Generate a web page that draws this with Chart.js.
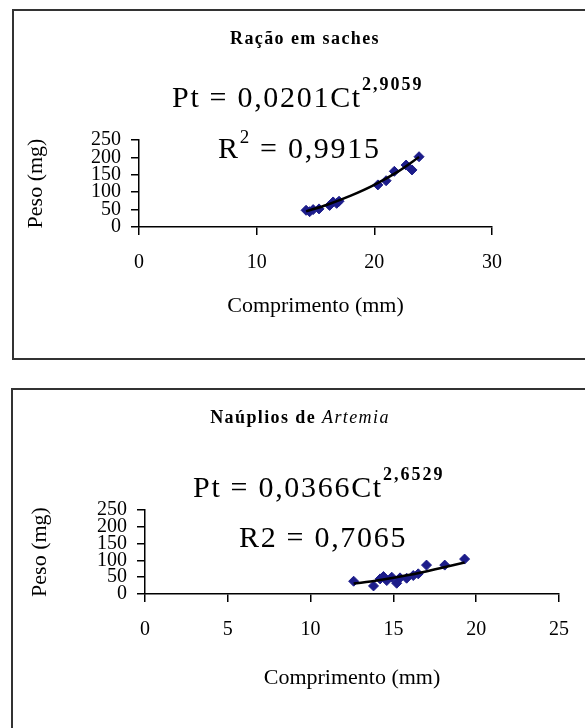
<!DOCTYPE html>
<html>
<head>
<meta charset="utf-8">
<script src="https://cdn.jsdelivr.net/npm/chart.js@4"></script>
<style>
  html, body { margin: 0; padding: 0; background: #fff; }
  body { width: 585px; height: 728px; position: relative; overflow: hidden; font-family: "Liberation Serif", "Times New Roman", serif; color: #000; }
  .box { position: absolute; border: 2px solid #333; }
  canvas { position: absolute; left: 0; }
  .txt { position: absolute; white-space: nowrap; }
  .titulo { font-size: 18px; font-weight: bold; letter-spacing: 1.4px; line-height: 20px; text-align: center; width: 300px; }
  .eq { font-size: 30px; letter-spacing: 1.7px; line-height: 30px; }
  .eq .exp { font-size: 18px; font-weight: bold; position: relative; top: -17px; letter-spacing: 2px; }
  .eq .sq { font-size: 19px; position: relative; top: -15px; }
</style>
</head>
<body>
<div class="box" style="left:12px; top:9px; width:600px; height:347px;"></div>
<div class="box" style="left:11px; top:388px; width:600px; height:400px;"></div>

<canvas id="graficoRacao" width="585" height="357" style="top:0px"></canvas>
<canvas id="graficoArtemia" width="585" height="358" style="top:370px"></canvas>

<div class="txt titulo" style="left:155px; top:28px;">Ração em saches</div>
<div class="txt eq" style="left:172px; top:82px;">Pt = 0,0201Ct<span class="exp">2,9059</span></div>
<div class="txt eq" style="left:218px; top:133px;">R<span class="sq">2</span> = 0,9915</div>

<div class="txt titulo" style="left:150px; top:407px;">Naúplios de <i style="font-weight:normal">Artemia</i></div>
<div class="txt eq" style="left:193px; top:472px;">Pt = 0,0366Ct<span class="exp">2,6529</span></div>
<div class="txt eq" style="left:239px; top:522px;">R2 = 0,7065</div>

<script>
// Ração em saches
const racaoComprimento = [14.2, 14.5, 14.8, 15.3, 16.2, 16.5, 16.8, 17.0, 20.3, 21.0, 21.7, 22.7, 23.2, 23.8];
const racaoPeso = [48, 44, 50, 52, 62, 72, 68, 74, 121, 133, 160, 178, 164, 202];
const racaoTendX = [14.2, 16, 18, 20, 22, 23.8];
const racaoTendY = [45, 64, 90, 121, 159, 201];
const racaoXTicks = [0, 10, 20, 30];

// Naúplios de Artemia
const artemiaComprimento = [12.6, 13.8, 14.2, 14.4, 14.6, 14.9, 15.2, 15.4, 15.8, 16.2, 16.5, 17.0, 18.1, 19.3];
const artemiaPeso = [38, 24, 45, 52, 40, 50, 32, 48, 47, 55, 60, 86, 86, 104];
const artemiaTendX = [12.6, 14, 16, 18, 19.3];
const artemiaTendY = [31, 40, 57, 79, 94];
const artemiaXTicks = [0, 5, 10, 15, 20, 25];

const pesoTicks = [0, 50, 100, 150, 200, 250];

const serif = '"Liberation Serif", "Times New Roman", serif';
const azul = '#1c1c8a';

function pares(xs, ys) {
    return xs.map((x, i) => ({ x: x, y: ys[i] }));
}

function montaGrafico(id, xs, ys, tx, ty, xTicks, cfg) {
    const ctx = document.getElementById(id).getContext('2d');
    return new Chart(ctx, {
        type: 'scatter',
        data: {
            datasets: [{
                label: 'Tendência',
                data: pares(tx, ty),
                showLine: true,
                borderColor: '#000',
                borderWidth: 2.5,
                pointRadius: 0,
                tension: 0.3
            }, {
                label: 'Peso',
                data: pares(xs, ys),
                pointStyle: 'rectRot',
                pointRadius: 5,
                backgroundColor: azul,
                borderColor: azul,
                borderWidth: 1
            }]
        },
        options: {
            responsive: false,
            animation: false,
            layout: { padding: cfg.padding },
            plugins: {
                legend: { display: false },
                tooltip: { enabled: false }
            },
            scales: {
                x: {
                    type: 'linear',
                    min: xTicks[0],
                    max: xTicks[xTicks.length - 1],
                    afterBuildTicks: axis => { axis.ticks = xTicks.map(v => ({ value: v })); },
                    afterFit: axis => { axis.height = cfg.xHeight; },
                    grid: { drawOnChartArea: false, drawTicks: true, tickLength: 8, color: '#000', lineWidth: 1.5 },
                    border: { display: true, color: '#000', width: 1.5 },
                    ticks: { autoSkip: false, maxRotation: 0, padding: 16, color: '#000', font: { family: serif, size: 20 } },
                    title: { display: true, text: 'Comprimento (mm)', color: '#000', padding: 0, font: { family: serif, size: 22 } }
                },
                y: {
                    min: 0,
                    max: 250,
                    afterBuildTicks: axis => { axis.ticks = pesoTicks.map(v => ({ value: v })); },
                    afterFit: axis => { axis.width = cfg.yWidth; },
                    grid: { drawOnChartArea: false, drawTicks: true, tickLength: 8, color: '#000', lineWidth: 1.5 },
                    border: { display: true, color: '#000', width: 1.5 },
                    ticks: { autoSkip: false, padding: 10, color: '#000', font: { family: serif, size: 20 } },
                    title: { display: true, text: 'Peso (mg)', color: '#000', padding: 0, font: { family: serif, size: 22 } }
                }
            }
        }
    });
}

montaGrafico('graficoRacao', racaoComprimento, racaoPeso, racaoTendX, racaoTendY, racaoXTicks, {
    padding: { left: 23, top: 140, right: 93, bottom: 38 },
    yWidth: 116,
    xHeight: 92
});

montaGrafico('graficoArtemia', artemiaComprimento, artemiaPeso, artemiaTendX, artemiaTendY, artemiaXTicks, {
    padding: { left: 27, top: 140, right: 26, bottom: 37 },
    yWidth: 118,
    xHeight: 97
});
</script>
</body>
</html>
